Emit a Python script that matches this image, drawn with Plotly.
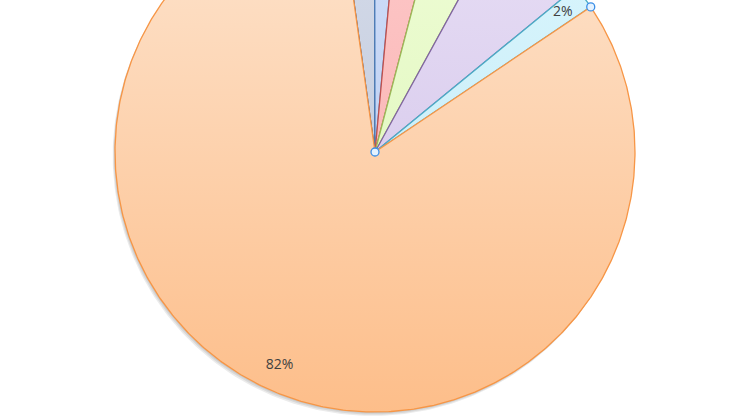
import numpy as np
import plotly.graph_objects as go

# slice shares in percent, clockwise from the first slice
slices = ["Slice 1", "Slice 2", "Slice 3", "Slice 4", "Slice 5", "Slice 6", "Slice 7"]
values = [2.2, 1.5, 2.6, 3.9, 6.1, 1.5, 82.2]
start_angle = -8.0  # degrees clockwise from 12 o'clock

line_colors = ["#1f3864", "#4f81bd", "#c0504d", "#9bbb59", "#8064a2", "#4bacc6", "#f79646"]
top_colors = ["#d6dcea", "#d0def8", "#fdcaca", "#f0fdd8", "#e9e0f6", "#dcf6fd", "#fde5d0"]
bottom_colors = ["#b8c2d6", "#b4c8f0", "#f9a8a8", "#d8f4b0", "#cdbde6", "#bde9f6", "#fdbe8a"]

x_range = [-375 / 260, 371 / 260]
y_range = [(152 - 419) / 260, 152 / 260]


def point(deg, r=1.0):
    a = np.radians(deg)
    return r * np.sin(a), r * np.cos(a)


fig = go.Figure()

# soft shadow under the pie
t = np.linspace(0, 360, 361)
for k in range(1, 4):
    sx, sy = point(t)
    fig.add_trace(go.Scatter(x=sx - 0.003 * k, y=sy - 0.005 * k, mode="lines", fill="toself",
                             fillcolor="rgba(0,0,0,0.08)", line=dict(width=0), hoverinfo="skip",
                             showlegend=False))

total = sum(values)
angle = start_angle
label_x, label_y, label_text = [], [], []
bounds = []
for name, v, lc, tc, bc in zip(slices, values, line_colors, top_colors, bottom_colors):
    span = 360 * v / total
    arc = np.linspace(angle, angle + span, max(int(span * 2), 4))
    ax, ay = point(arc)
    xs = np.concatenate([[0], ax, [0]])
    ys = np.concatenate([[0], ay, [0]])
    fig.add_trace(go.Scatter(
        x=xs, y=ys, mode="lines", fill="toself", name=name,
        line=dict(color=lc, width=1.3),
        fillgradient=dict(type="vertical", start=-1, stop=1,
                          colorscale=[[0, bc], [1, tc]]),
        hoverinfo="name", showlegend=False,
    ))
    lx, ly = point(angle + span / 2, 0.9)
    # labels of the slices above the visible area are left out
    if ly < y_range[1] - 0.02:
        label_x.append(lx)
        label_y.append(ly)
        label_text.append(f"{v / total * 100:.0f}%")
    angle += span
    bounds.append(angle)

fig.add_trace(go.Scatter(
    x=label_x, y=label_y, mode="text", text=label_text, cliponaxis=False,
    textfont=dict(family="Open Sans", size=14, color="#404040"),
    hoverinfo="skip", showlegend=False,
))

# selection handles at the centre and on the edge of the selected slice
hx, hy = point(bounds[5])
fig.add_trace(go.Scatter(
    x=[0, hx], y=[0, hy], mode="markers",
    marker=dict(size=8, color="#e4f2ff", line=dict(color="#3a8ee6", width=1.3)),
    hoverinfo="skip", showlegend=False,
))

fig.update_layout(
    width=746, height=419,
    margin=dict(l=0, r=0, t=0, b=0),
    paper_bgcolor="white", plot_bgcolor="white",
    xaxis=dict(visible=False, range=x_range),
    yaxis=dict(visible=False, range=y_range),
)

fig.write_html("out.html", config={"displayModeBar": False},
               post_script="document.body.style.margin='0';")
